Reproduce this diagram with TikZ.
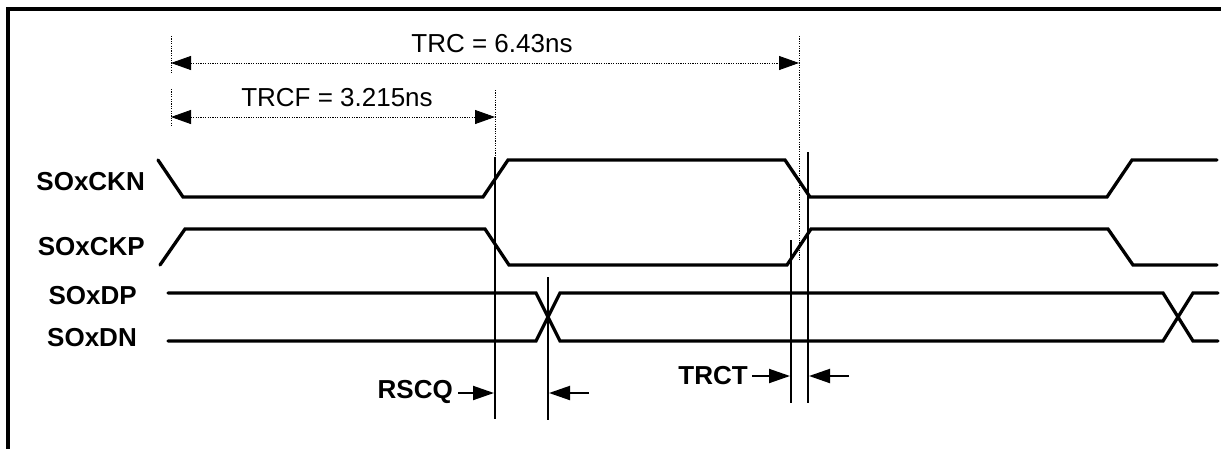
\documentclass[tikz,border=0pt]{standalone}
\usepackage{fontspec}
\setmainfont{Liberation Sans}
\usetikzlibrary{arrows.meta}
\begin{document}
\begin{tikzpicture}[x=1pt,y=-1pt,
  sig/.style={line width=3.3pt, line cap=round, line join=miter},
  vline/.style={line width=2pt},
  dotln/.style={line width=0.9pt, dash pattern=on 1.2pt off 1.2pt},
  dimarr/.style={dotln, {Triangle[length=20pt,width=14pt]}-{Triangle[length=20pt,width=14pt]}},
  lbl/.style={font=\fontsize{26}{30}\selectfont\bfseries, inner sep=0pt},
  dimtxt/.style={font=\fontsize{26}{30}\selectfont, inner sep=0pt},
  tiparr/.style={-{Triangle[length=21pt,width=14pt]}, line width=2pt}
]
\useasboundingbox (0,0) rectangle (1221,448);
% frame
\draw[line width=4pt] (8,470) -- (8,9) -- (1240,9);

% dimension ticks and guide lines
\draw[dotln] (171,36) -- (171,73);
\draw[dotln] (171,89) -- (171,126);
\draw[dotln] (495,90) -- (495,157);
\draw[dotln] (799,36) -- (799,260);

\coordinate (trcL) at (171,63);
\coordinate (trcR) at (799,63);
\coordinate (trcfL) at (171,117);
\coordinate (trcfR) at (495,117);
\draw[dimarr] (trcL) -- (trcR);
\draw[dimarr] (trcfL) -- (trcfR);
\node[dimtxt] (trctxt) at (492,44) {TRC = 6.43ns};
\node[dimtxt] (trcftxt) at (337,98) {TRCF = 3.215ns};

% signal labels
\node[lbl, anchor=east] (ckn) at (145,182) {SOxCKN};
\node[lbl, anchor=east] (ckp) at (145,247) {SOxCKP};
\node[lbl, anchor=east] (dp) at (137,296) {SOxDP};
\node[lbl, anchor=east] (dn) at (137,338) {SOxDN};

% signals
\draw[sig] (158,160) -- (183,197) -- (483,197) -- (508,160) -- (785,160) -- (810,197) -- (1107,197) -- (1132,160) -- (1217,160);
\draw[sig] (160,265) -- (185,229) -- (485,229) -- (509,265) -- (787,265) -- (811,229) -- (1108,229) -- (1133,265) -- (1217,265);
\draw[sig] (168,293) -- (536,293) -- (560,341) -- (1163,341) -- (1193,293) -- (1218,293);
\draw[sig] (168,341) -- (536,341) -- (560,293) -- (1163,293) -- (1193,341) -- (1218,341);

% timing marker lines
\draw[vline] (495,157) -- (495,419);
\draw[vline] (548,277) -- (548,420);
\draw[vline] (791,240) -- (791,403);
\draw[vline] (808,152) -- (808,403);

% RSCQ
\node[lbl, anchor=east] (rscq) at (453,392) {RSCQ};
\coordinate (rscqA) at (458,393);
\coordinate (rscqB) at (494,393);
\draw[tiparr] (rscqA) -- (rscqB);
\coordinate (rscqC) at (589,393);
\coordinate (rscqD) at (549,393);
\draw[tiparr] (rscqC) -- (rscqD);

% TRCT
\node[lbl, anchor=east] (trct) at (748,376) {TRCT};
\coordinate (trctA) at (752,376);
\coordinate (trctB) at (790,376);
\draw[tiparr] (trctA) -- (trctB);
\coordinate (trctC) at (849,376);
\coordinate (trctD) at (809,376);
\draw[tiparr] (trctC) -- (trctD);
\end{tikzpicture}
\end{document}
